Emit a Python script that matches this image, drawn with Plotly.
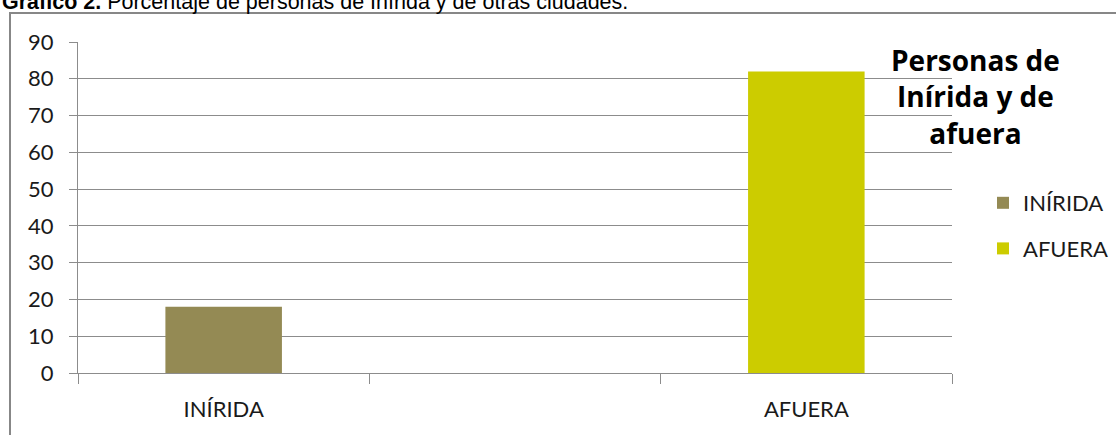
import plotly.graph_objects as go

categories = ["INÍRIDA", " ", "AFUERA"]
series_names = ["INÍRIDA", "AFUERA"]
series_x = [["INÍRIDA"], ["AFUERA"]]
series_values = [[18], [82]]
colors = ["#948A54", "#CCCC00"]
y_ticks = [0, 10, 20, 30, 40, 50, 60, 70, 80, 90]

W, H = 1116, 435
L, R, T, B = 78, 164, 42, 62
pw = W - L - R
ph = H - T - B

def px(xp):
    return (xp - L) / pw

def py(yp):
    return (H - B - yp) / ph

fig = go.Figure()
for name, xs, vals, c in zip(series_names, series_x, series_values, colors):
    fig.add_trace(go.Bar(name=name, x=xs, y=vals, marker=dict(color=c, line=dict(width=0)),
                         width=0.4, legendgroup=name))

tick_font = dict(family="Lato", size=22, color="#1a1a1a")

fig.update_layout(
    width=W, height=H,
    margin=dict(l=L, r=R, t=T, b=B, pad=0, autoexpand=False),
    paper_bgcolor="white", plot_bgcolor="white",
    barmode="overlay",
    font=tick_font,
    showlegend=True,
    legend=dict(x=px(983), y=py(182), xanchor="left", yanchor="top",
                font=tick_font,
                traceorder="grouped", tracegroupgap=14, bgcolor="rgba(0,0,0,0)"),
    xaxis=dict(type="category", categoryorder="array", categoryarray=categories,
               range=[-0.5, 2.5], tickson="boundaries", ticks="outside", ticklen=10,
               tickcolor="#8c8c8c", showline=True, linecolor="#8c8c8c", linewidth=1,
               showgrid=False, ticklabelstandoff=17, tickfont=tick_font, automargin=False),
    yaxis=dict(range=[0, 90], tickvals=y_ticks, ticks="outside", ticklen=8,
               tickcolor="#8c8c8c", showline=True, linecolor="#8c8c8c", linewidth=1,
               showgrid=True, gridcolor="#8c8c8c", gridwidth=1, zeroline=False,
               ticklabelstandoff=11, tickfont=tick_font, automargin=False),
    shapes=[dict(type="rect", xref="paper", yref="paper",
                 x0=px(10), x1=px(1125), y0=py(445), y1=py(13),
                 line=dict(color="#878787", width=2), fillcolor="rgba(0,0,0,0)", layer="below")],
    annotations=[
        dict(text="<b>Personas de<br>Inírida y de<br>afuera</b>", xref="paper", yref="paper",
             x=px(976), y=py(97), xanchor="center", yanchor="middle", showarrow=False,
             font=dict(family="Open Sans", size=28, color="#000000"), align="center"),
        dict(text="<b>Gráfico 2.</b> Porcentaje de personas de Inírida y de otras ciudades.",
             xref="paper", yref="paper", x=px(0), y=py(16), xanchor="left", yanchor="bottom",
             showarrow=False, font=dict(family="Liberation Sans", size=21.5, color="#000000"),
             align="left"),
    ],
)

fig.write_html("out.html", config={"displayModeBar": False},
               post_script="document.body.style.margin='0';")
